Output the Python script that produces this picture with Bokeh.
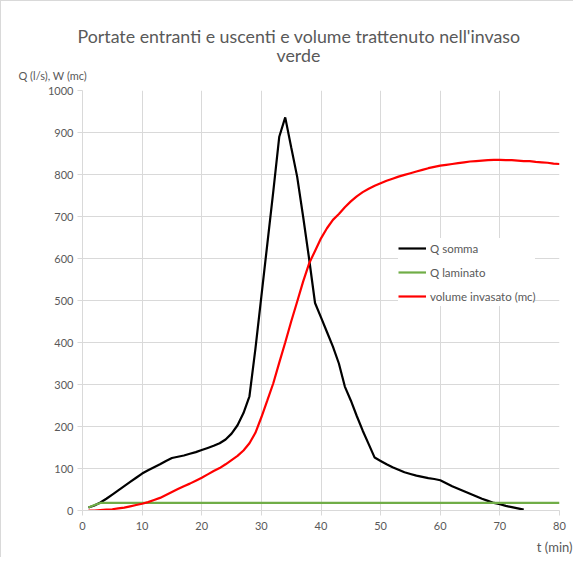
from bokeh.plotting import figure
from bokeh.models import Range1d, Legend, LegendItem, FixedTicker, Title
from bokeh.embed import file_html
from bokeh.resources import INLINE

# ---- data ----
t_somma = list(range(1, 75))
q_somma = [7, 12, 19, 28, 38, 48, 58, 68, 78, 88,
           96, 103, 110, 118, 125, 128, 131, 135, 139, 144,
           149, 154, 160, 169, 183, 203, 232, 272, 385, 510,
           635, 760, 890, 936, 865, 795, 700, 600, 494, 460,
           425, 390, 350, 295, 262, 225, 190, 158, 126, 118,
           110, 103, 97, 91, 87, 83, 80, 77, 75, 72,
           65, 58, 52, 46, 40, 34, 28, 23, 18, 15,
           11, 8, 5, 2]

t_lam = [1, 2, 3, 80]
q_lam = [7, 13, 18, 18]

t_vol = list(range(1, 81))
w_vol = [0, 0, 1, 2, 3, 5, 7, 10, 13, 16,
         20, 25, 30, 37, 44, 51, 58, 64, 71, 78,
         86, 94, 101, 110, 120, 130, 143, 160, 185, 222,
         262, 303, 352, 400, 450, 497, 545, 588, 618, 648,
         672, 692, 706, 722, 736, 748, 758, 766, 773, 779,
         785, 790, 795, 799, 803, 807, 811, 815, 818, 821,
         823, 825, 827, 829, 831, 832, 833, 834, 835, 835,
         834, 834, 833, 832, 832, 830, 829, 828, 826, 825]

x_ticks = [0, 10, 20, 30, 40, 50, 60, 70, 80]
y_ticks = [0, 100, 200, 300, 400, 500, 600, 700, 800, 900, 1000]

title_1 = "Portate entranti e uscenti e volume trattenuto nell'invaso"
title_2 = "verde"
y_label = "Q (l/s), W (mc)"
x_label = "t (min)"
names = ["Q somma", "Q laminato", "volume invasato (mc)"]

FONT = "Lato"
GRAY = "#595959"
GRID = "#d9d9d9"

p = figure(width=573, height=557, output_backend="svg", toolbar_location=None,
           x_range=Range1d(0, 80), y_range=Range1d(0, 1000),
           min_border_left=81, min_border_right=15, min_border_top=89,
           min_border_bottom=48,
           styles={"border-left": "1px solid #d9d9d9", "border-top": "1px solid #d9d9d9"})
p.outline_line_color = None
p.background_fill_color = "white"

for ax in (p.xaxis[0], p.yaxis[0]):
    ax.axis_line_color = GRID
    ax.major_tick_line_color = GRID
    ax.major_tick_out = 5
    ax.major_tick_in = 0
    ax.minor_tick_line_color = None
    ax.major_label_text_color = GRAY
    ax.major_label_text_font = FONT
    ax.major_label_text_font_size = "11px"
p.xaxis[0].ticker = FixedTicker(ticks=x_ticks)
p.yaxis[0].ticker = FixedTicker(ticks=y_ticks)
p.xaxis[0].major_label_standoff = 6
p.yaxis[0].major_label_standoff = 4

p.xgrid[0].ticker = FixedTicker(ticks=x_ticks)
p.ygrid[0].ticker = FixedTicker(ticks=y_ticks)
p.xgrid.grid_line_color = GRID
p.ygrid.grid_line_color = GRID

r1 = p.line(t_somma, q_somma, line_color="#000000", line_width=2.2)
r2 = p.line(t_lam, q_lam, line_color="#70ad47", line_width=2.2)
r3 = p.line(t_vol, w_vol, line_color="#ff0000", line_width=2.2)

legend = Legend(items=[LegendItem(label=names[0], renderers=[r1]),
                       LegendItem(label=names[1], renderers=[r2]),
                       LegendItem(label=names[2], renderers=[r3])],
                location=(316, 204), orientation="vertical",
                label_text_font=FONT, label_text_font_size="11.5px",
                label_text_color=GRAY, label_height=20, glyph_height=20,
                glyph_width=28, label_standoff=4, spacing=4, padding=5,
                margin=0, border_line_color=None,
                background_fill_color="white", background_fill_alpha=1.0)
p.add_layout(legend, "center")

p.add_layout(Title(text=y_label, align="left", offset=-64, text_font=FONT,
                   text_font_size="11px", text_font_style="normal",
                   text_color=GRAY, standoff=17), "above")
p.add_layout(Title(text=title_2, align="left", offset=194, text_font=FONT,
                   text_font_size="17.8px", text_font_style="normal",
                   text_color=GRAY, standoff=-15), "above")
p.add_layout(Title(text=title_1, align="left", offset=-5, text_font=FONT,
                   text_font_size="17.8px", text_font_style="normal",
                   text_color=GRAY, standoff=5), "above")
p.add_layout(Title(text=x_label, align="right", offset=-13, text_font=FONT,
                   text_font_size="13px", text_font_style="normal",
                   text_color=GRAY, standoff=8), "below")

open("out.html", "w").write(file_html(p, INLINE))
